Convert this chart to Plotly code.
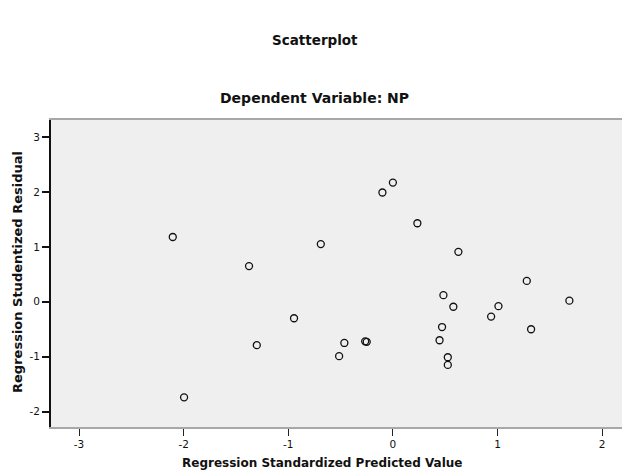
import plotly.graph_objects as go

predicted = [-2.104, -1.996, -1.375, -1.301, -0.945, -0.689, -0.464, -0.514,
             -0.250, -0.265, -0.100, 0.000, 0.234, 0.626, 0.483, 0.578,
             0.470, 0.446, 0.525, 0.525, 0.939, 1.009, 1.280, 1.321, 1.687]
residual = [1.18, -1.74, 0.65, -0.79, -0.30, 1.05, -0.75, -0.99,
            -0.73, -0.72, 1.99, 2.17, 1.43, 0.91, 0.12, -0.09,
            -0.46, -0.70, -1.01, -1.15, -0.27, -0.08, 0.38, -0.50, 0.02]

x_ticks = [-3, -2, -1, 0, 1, 2]
y_ticks = [-2, -1, 0, 1, 2, 3]

title_text = "Scatterplot"
subtitle_text = "Dependent Variable: NP"
x_title = "Regression Standardized Predicted Value"
y_title = "Regression Studentized Residual"

FONT = "DejaVu Sans"

fig = go.Figure()
fig.add_trace(go.Scatter(
    x=predicted, y=residual, mode="markers",
    marker=dict(symbol="circle-open", size=7, color="#111111", line=dict(width=1.3)),
    showlegend=False, hoverinfo="x+y",
))

fig.update_layout(
    width=622, height=474,
    margin=dict(l=51, r=0, t=120, b=47),
    paper_bgcolor="white",
    plot_bgcolor="#efefef",
    font=dict(family=FONT, size=11, color="#111111"),
    xaxis=dict(
        range=[-3.268, 2.19], tickvals=x_ticks, ticktext=[str(v) for v in x_ticks],
        showgrid=False, zeroline=False, showline=True, linecolor="#a8a8a8", linewidth=1.5,
        mirror=True, ticks="outside", ticklen=7, tickcolor="#222222", tickwidth=1,
        tickfont=dict(size=10.5, family=FONT), fixedrange=True,
    ),
    yaxis=dict(
        range=[-2.28, 3.31], tickvals=y_ticks, ticktext=[str(v) for v in y_ticks],
        showgrid=False, zeroline=False, showline=True, linecolor="#111111", linewidth=2,
        ticks="outside", ticklen=7, tickcolor="#111111", tickwidth=2,
        tickfont=dict(size=10.5, family=FONT), fixedrange=True,
    ),
    annotations=[
        dict(text="<b>" + title_text + "</b>", xref="paper", yref="paper",
             x=0.462, y=1.2606, xanchor="center", yanchor="middle", showarrow=False,
             font=dict(size=13.5, family=FONT)),
        dict(text="<b>" + subtitle_text + "</b>", xref="paper", yref="paper",
             x=0.462, y=1.0717, xanchor="center", yanchor="middle", showarrow=False,
             font=dict(size=14, family=FONT)),
        dict(text="<b>" + x_title + "</b>", xref="paper", yref="paper",
             x=0.475, y=-0.117, xanchor="center", yanchor="middle", showarrow=False,
             font=dict(size=12, family=FONT)),
        dict(text="<b>" + y_title + "</b>", xref="paper", yref="paper",
             x=-0.0578, y=0.505, xanchor="center", yanchor="middle", showarrow=False,
             textangle=-90, font=dict(size=13, family=FONT)),
    ],
)

fig.write_html("out.html", config={"displayModeBar": False},
               post_script="document.body.style.margin='0';")
